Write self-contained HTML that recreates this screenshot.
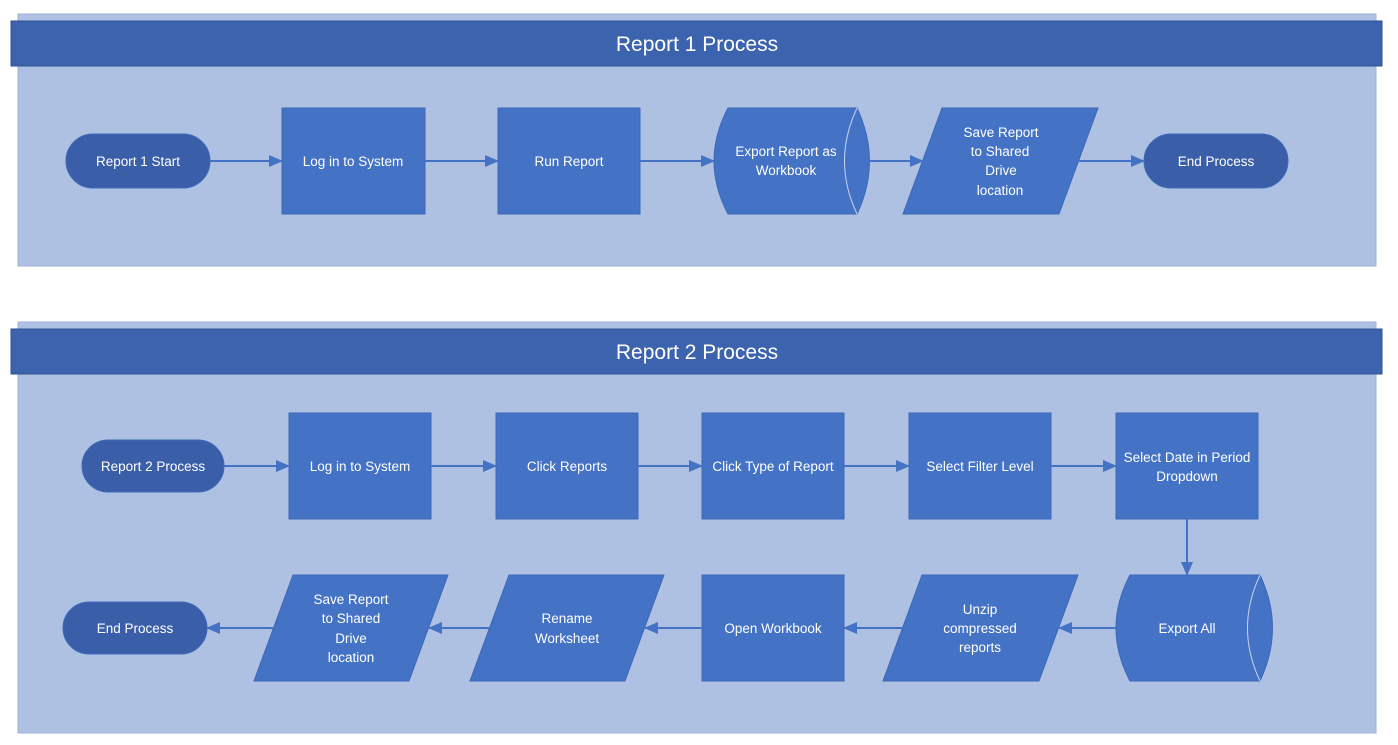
<!DOCTYPE html>
<html><head><style>body{margin:0;background:#fff}svg{display:block}text{font-family:"Liberation Sans",sans-serif;fill:#fff;font-size:13.5px;text-anchor:middle}</style></head><body>
<svg width="1398" height="745" xmlns="http://www.w3.org/2000/svg">
<defs><marker id="a" markerWidth="14" markerHeight="12" refX="13" refY="6" orient="auto" markerUnits="userSpaceOnUse"><path d="M0,0 L14,6 L0,12 Z" fill="#4472c4"/></marker></defs>
<rect x="18" y="14" width="1358" height="252" fill="#afc1e3" stroke="#9fb3da"/>
<rect x="11" y="21" width="1371" height="45" fill="#3c63ad" stroke="#2f528f"/>
<text x="697" y="51" style="font-size:21px">Report 1 Process</text>
<rect x="18" y="322" width="1358" height="411" fill="#afc1e3" stroke="#9fb3da"/>
<rect x="11" y="329" width="1371" height="45" fill="#3c63ad" stroke="#2f528f"/>
<text x="697" y="359" style="font-size:21px">Report 2 Process</text>
<g fill="#4472c4" stroke="#3d68b8">
<rect x="66" y="134" width="144" height="54" rx="27" fill="#3a5fa8"/>
<rect x="282" y="108" width="143" height="106"/>
<rect x="498" y="108" width="142" height="106"/>
<path d="M728,108 Q700,161 728,214 L857,214 Q882,161 857,108 Z"/>
<path d="M857,108 Q832,161 857,214" fill="none" stroke="#c8d4ee"/>
<path d="M942,108 L1098,108 L1059,214 L903,214 Z"/>
<rect x="1144" y="134" width="144" height="54" rx="27" fill="#3a5fa8"/>
<rect x="82" y="440" width="142" height="52" rx="26" fill="#3a5fa8"/>
<rect x="289" y="413" width="142" height="106"/>
<rect x="496" y="413" width="142" height="106"/>
<rect x="702" y="413" width="142" height="106"/>
<rect x="909" y="413" width="142" height="106"/>
<rect x="1116" y="413" width="142" height="106"/>
<path d="M1130,575 Q1102,628 1130,681 L1260,681 Q1285,628 1260,575 Z"/>
<path d="M1260,575 Q1235,628 1260,681" fill="none" stroke="#c8d4ee"/>
<path d="M922,575 L1078,575 L1039,681 L883,681 Z"/>
<rect x="702" y="575" width="142" height="106"/>
<path d="M509,575 L664,575 L625,681 L470,681 Z"/>
<path d="M293,575 L448,575 L409,681 L254,681 Z"/>
<rect x="63" y="602" width="144" height="52" rx="26" fill="#3a5fa8"/>
</g>
<g stroke="#4472c4" stroke-width="2" marker-end="url(#a)">
<line x1="210" y1="161" x2="282" y2="161"/><line x1="425" y1="161" x2="498" y2="161"/><line x1="640" y1="161" x2="714" y2="161"/><line x1="868" y1="161" x2="923" y2="161"/><line x1="1078" y1="161" x2="1144" y2="161"/>
<line x1="224" y1="466" x2="289" y2="466"/><line x1="431" y1="466" x2="496" y2="466"/><line x1="638" y1="466" x2="702" y2="466"/><line x1="844" y1="466" x2="909" y2="466"/><line x1="1051" y1="466" x2="1116" y2="466"/>
<line x1="1187" y1="519" x2="1187" y2="575"/>
<line x1="1116" y1="628" x2="1059" y2="628"/><line x1="902" y1="628" x2="844" y2="628"/><line x1="702" y1="628" x2="645" y2="628"/><line x1="489" y1="628" x2="429" y2="628"/><line x1="273" y1="628" x2="207" y2="628"/>
</g>
<text x="138" y="166">Report 1 Start</text>
<text x="353" y="166">Log in to System</text>
<text x="569" y="166">Run Report</text>
<text x="786" y="156">Export Report as</text><text x="786" y="175">Workbook</text>
<text x="1001" y="137">Save Report</text><text x="1000" y="156">to Shared</text><text x="1001" y="175">Drive</text><text x="1000" y="195">location</text>
<text x="1216" y="166">End Process</text>
<text x="153" y="471">Report 2 Process</text>
<text x="360" y="471">Log in to System</text>
<text x="567" y="471">Click Reports</text>
<text x="773" y="471">Click Type of Report</text>
<text x="980" y="471">Select Filter Level</text>
<text x="1187" y="462">Select Date in Period</text><text x="1187" y="481">Dropdown</text>
<text x="1187" y="633">Export All</text>
<text x="980" y="614">Unzip</text><text x="980" y="633">compressed</text><text x="980" y="652">reports</text>
<text x="773" y="633">Open Workbook</text>
<text x="567" y="623">Rename</text><text x="567" y="643">Worksheet</text>
<text x="351" y="604">Save Report</text><text x="351" y="623">to Shared</text><text x="351" y="643">Drive</text><text x="351" y="662">location</text>
<text x="135" y="633">End Process</text>
</svg>
</body></html>
